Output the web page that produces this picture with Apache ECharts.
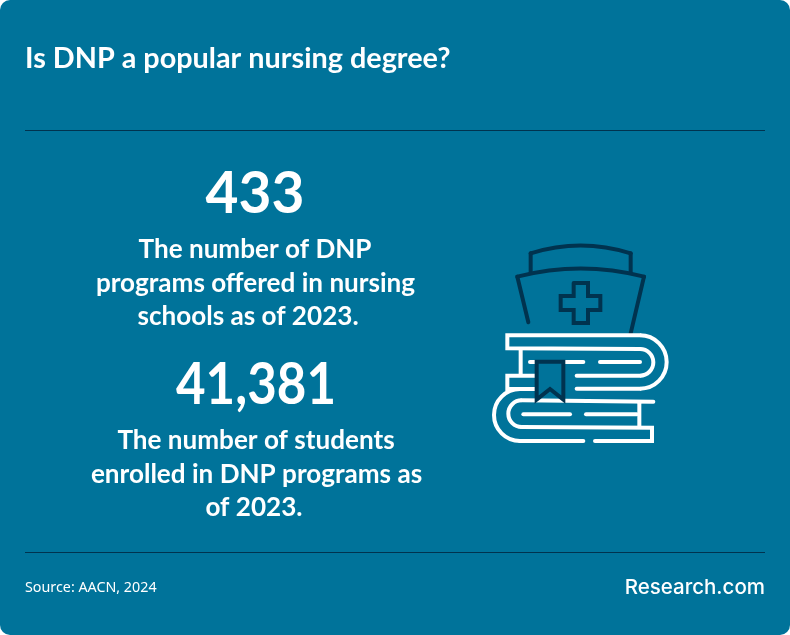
<!DOCTYPE html>
<html>
<head>
<meta charset="utf-8">
<title>Is DNP a popular nursing degree?</title>
<script src="https://cdn.jsdelivr.net/npm/echarts@6/dist/echarts.min.js"></script>
<style>
html, body { margin: 0; padding: 0; background: #fff; }
#main { width: 790px; height: 635px; }
</style>
</head>
<body>
<div id="main"></div>
<script>
// texts
var titleText = 'Is DNP a popular nursing degree?';
var statValues = ['433', '41,381'];
var statLines = [
    ['The number of DNP', 'programs offered in nursing', 'schools as of 2023.'],
    ['The number of students', 'enrolled in DNP programs as', 'of 2023.']
];
var sourceText = 'Source: AACN, 2024';
var brandText = 'Research.com';

var bg = '#00739a';
var dark = '#00334f';
var white = '#ffffff';
var bodyFont = 'Lato';

var elements = [];

function label(str, x, y, size, weight, align, font, squeeze) {
    elements.push({
        type: 'text', x: x, y: y, scaleX: squeeze || 1,
        style: {
            text: str, fill: white, fontFamily: font || bodyFont, fontSize: size,
            fontWeight: weight, textAlign: align, textVerticalAlign: 'middle'
        }
    });
}

// icon was measured on a 3x crop, so map it back to page pixels
function px(x) { return 480 + x / 3; }
function py(y) { return 235 + y / 3; }

function poly(points, color, width) {
    elements.push({
        type: 'polyline',
        shape: { points: points.map(function (p) { return [px(p[0]), py(p[1])]; }) },
        style: { stroke: color, lineWidth: width, fill: null, lineJoin: 'miter', lineCap: 'round' }
    });
}

function arc(cx, cy, r, start, end, color, width) {
    elements.push({
        type: 'arc',
        shape: { cx: px(cx), cy: py(cy), r: r / 3, startAngle: start, endAngle: end, clockwise: true },
        style: { stroke: color, lineWidth: width, fill: null }
    });
}

function curve(x1, y1, cx, cy, x2, y2, color, width) {
    elements.push({
        type: 'bezierCurve',
        shape: { x1: px(x1), y1: py(y1), cpx1: px(cx), cpy1: py(cy), x2: px(x2), y2: py(y2) },
        style: { stroke: color, lineWidth: width, fill: null, lineCap: 'round' }
    });
}

// card
elements.push({ type: 'rect', shape: { x: 0, y: 0, width: 790, height: 635, r: 10 }, style: { fill: bg } });

// rules
[130, 552].forEach(function (y) {
    elements.push({
        type: 'line',
        shape: { x1: 25, y1: y + 0.5, x2: 765, y2: y + 0.5 },
        style: { stroke: dark, lineWidth: 1 }
    });
});

// nurse cap
poly([[152, 112], [152, 55]], dark, 4);
poly([[452, 112], [452, 55]], dark, 4);
curve(152, 55, 302, 8, 452, 55, dark, 4);
curve(112, 125, 302, 76, 492, 125, dark, 4);
poly([[112, 125], [145, 262]], dark, 4);
poly([[492, 125], [452, 295]], dark, 4);
poly([[281, 144], [324, 144], [324, 183], [361, 183], [361, 225], [324, 225], [324, 264], [281, 264],
      [281, 225], [242, 225], [242, 183], [281, 183], [281, 144]], dark, 4);

// top book
poly([[480, 301], [82, 301], [82, 340], [480, 342]], white, 4);
arc(480, 381, 80, -Math.PI / 2, Math.PI / 2, white, 4);
arc(480, 382, 40, -Math.PI / 2, Math.PI / 2, white, 4);
poly([[480, 461], [290, 461]], white, 4);
poly([[480, 422], [290, 422]], white, 4);
poly([[150, 381], [310, 381]], white, 4);
poly([[360, 381], [480, 381]], white, 4);
poly([[122, 344], [122, 418]], white, 4);
poly([[165, 422], [82, 422], [82, 462], [165, 462]], white, 4);

// bottom book
poly([[120, 462], [165, 462]], white, 4);
arc(120, 540, 78, Math.PI / 2, Math.PI * 1.5, white, 4);
arc(125, 536, 40, Math.PI / 2, Math.PI * 1.5, white, 4);
poly([[120, 618], [310, 618]], white, 4);
poly([[345, 618], [516, 618], [516, 578], [125, 576]], white, 4);
poly([[125, 496], [520, 500]], white, 4);
poly([[478, 505], [478, 575]], white, 4);
poly([[130, 538], [270, 538]], white, 4);
poly([[318, 538], [470, 538]], white, 4);

// bookmark goes over the books
elements.push({
    type: 'polygon',
    shape: { points: [[170, 380], [250, 380], [250, 494], [210, 462], [170, 494]].map(function (p) { return [px(p[0]), py(p[1])]; }) },
    style: { fill: bg, stroke: dark, lineWidth: 4, lineJoin: 'miter' }
});

// text, last lines sit a little left of centre in the original
label(titleText, 25, 59, 28.8, 700, 'left');
label(statValues[0], 255, 194, 58, 700, 'center', null, 0.98);
[255, 255.5, 248].forEach(function (x, i) {
    label(statLines[0][i], x, 250 + i * 33.5, 26.1, 700, 'center');
});
label(statValues[1], 256, 385, 58, 700, 'center', null, 0.88);
[256, 256.5, 254].forEach(function (x, i) {
    label(statLines[1][i], x, 441 + i * 33.5, 26.1, 700, 'center');
});
label(sourceText, 25, 588, 14.3, 400, 'left', 'Noto Sans');
label(brandText, 765, 587.5, 20.5, 500, 'right', 'Inter');

var myChart = echarts.init(document.getElementById('main'));
option = {
    backgroundColor: '#ffffff',
    animation: false,
    graphic: { elements: elements }
};
myChart.setOption(option, true);
</script>
</body>
</html>
